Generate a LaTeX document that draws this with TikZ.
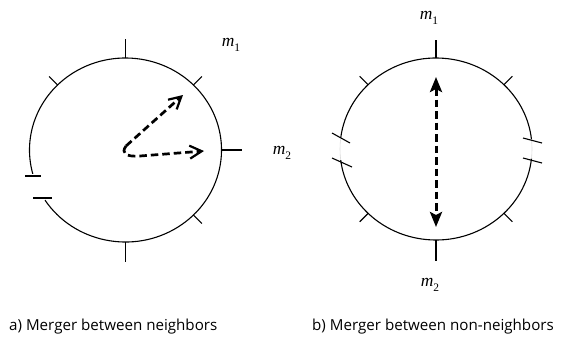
\documentclass[tikz,border=0pt]{standalone}
\usepackage{fontspec}
\setsansfont{Open Sans}
\newfontfamily\timesfont{Liberation Serif}
\usetikzlibrary{arrows.meta,calc}
\newcommand{\mlabel}[1]{{\timesfont\itshape m}\raisebox{-0.3em}{\timesfont\fontsize{11.5}{12}\selectfont #1}}

\begin{document}
\begin{tikzpicture}[x=1bp,y=-1bp,
    ring/.style={line width=1.1bp},
    tickmark/.style={line width=1.1bp},
    merge/.style={line width=2.7bp,dash pattern=on 7.5bp off 4bp},
    opentip/.style={-{Straight Barb[length=12bp,width=13bp,line width=2.2bp]}},
    lbl/.style={font=\fontsize{17.5}{19}\selectfont,inner sep=0pt},
    caption/.style={font=\sffamily\fontsize{15.2}{18}\selectfont,anchor=base west,inner sep=0pt}
    ]
    \useasboundingbox (0,0) rectangle (565,340);
    \coordinate (ca) at (125.5,150);
    \coordinate (cb) at (436,149);

    % a) neighbors
    \draw[ring] ($(ca)+(147:96 and 92)$) arc[start angle=147,end angle=-195,x radius=96,y radius=92];
    \foreach \a/\l in {0/20,-90/19,90/20,-45/12,-135/12,45/12}
      \draw[tickmark] ($(ca)+(\a:96 and 92)$) -- ($(ca)+(\a:{96+\l} and {92+\l})$);
    \draw[tickmark] (25,176) -- (41,176);
    \draw[tickmark] (33,198) -- (52,198);

    \coordinate (o)  at (126,146);
    \coordinate (t1) at (183,95);
    \coordinate (t2) at (204,151);
    \draw[merge,opentip] (o) -- (t1);
    \draw[merge,opentip] (o) .. controls (121,153) and (125,157) .. (140,156) -- (t2);

    \node[lbl] (m1a) at (231,45) {\mlabel{1}};
    \node[lbl] (m2a) at (282,153) {\mlabel{2}};

    % b) non-neighbors
    \draw[ring] ($(cb)+(6:96 and 91)$) arc[start angle=6,end angle=173,x radius=96,y radius=91];
    \draw[ring] ($(cb)+(187:96 and 91)$) arc[start angle=187,end angle=354,x radius=96,y radius=91];
    \draw[black!15,line width=0.6bp] ($(cb)+(173:96 and 91)$) arc[start angle=173,end angle=187,x radius=96,y radius=91];
    \draw[black!15,line width=0.6bp] ($(cb)+(-6:96 and 91)$) arc[start angle=-6,end angle=6,x radius=96,y radius=91];
    \foreach \a/\l in {-90/18,90/21,-45/12,-135/12,45/12,135/12}
      \draw[tickmark] ($(cb)+(\a:96 and 91)$) -- ($(cb)+(\a:{96+\l} and {91+\l})$);
    \draw[tickmark] (332,133) -- (350,143);
    \draw[tickmark] (332,158) -- (352,167);
    \draw[tickmark] (523,138) -- (542,143);
    \draw[tickmark] (523,158) -- (542,163);

    \coordinate (p) at (436,77);
    \coordinate (q) at (436,227);
    \draw[merge,line width=3bp,{Stealth[length=15bp,width=12bp,inset=3bp]}-{Stealth[length=15bp,width=12bp,inset=3bp]}] (p) -- (q);

    \node[lbl] (m1b) at (429,18) {\mlabel{1}};
    \node[lbl] (m2b) at (430,285) {\mlabel{2}};

    % captions
    \node[caption] (capa) at (9,330) {a) Merger between neighbors};
    \node[caption] (capb) at (312,330) {b) Merger between non-neighbors};
\end{tikzpicture}
\end{document}
